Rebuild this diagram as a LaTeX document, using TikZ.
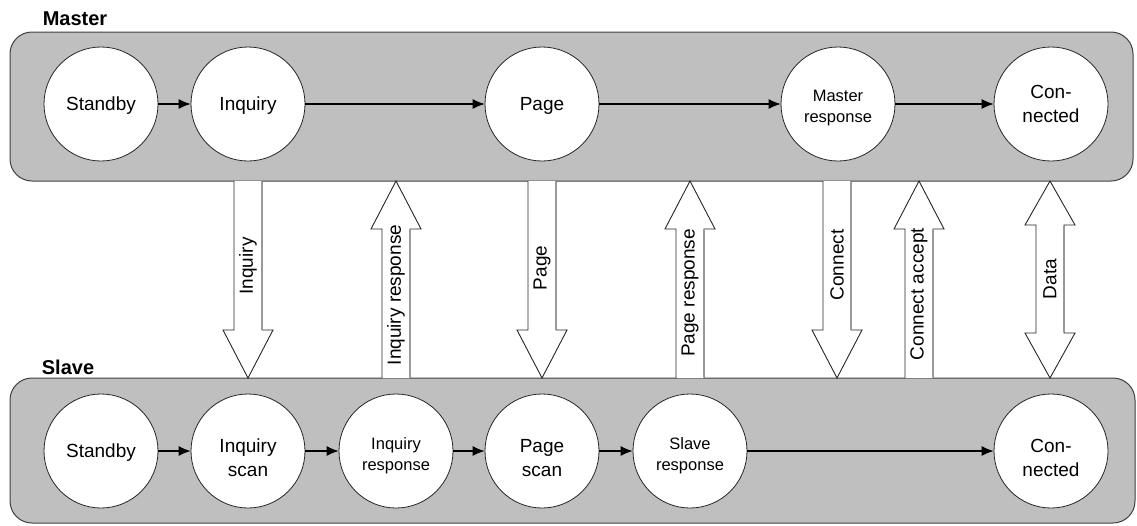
\documentclass[tikz,border=0pt]{standalone}
\usepackage{fontspec}
\setmainfont{Liberation Sans}
\usetikzlibrary{arrows.meta}
\begin{document}
\begin{tikzpicture}[x=1pt,y=-1pt,
  panel/.style={draw=black!75,fill=black!25,line width=1pt,rounded corners=22pt},
  state/.style={circle,draw=black!85,fill=white,line width=0.8pt,minimum size=114pt,inner sep=0pt},
  txt/.style={align=center,inner sep=0pt,font=\fontsize{19}{24}\selectfont},
  smalltxt/.style={txt,font=\fontsize{16.5}{21}\selectfont},
  flow/.style={draw=black,line width=1.1pt,-{Latex[length=12pt,width=10pt]}},
  blockedge/.style={draw=black!85,fill=white,line width=0.9pt,line join=miter},
  shadeedge/.style={draw=black!40,line width=1.2pt},
  vlabel/.style={rotate=90,inner sep=0pt,font=\fontsize{19}{23}\selectfont},
  title/.style={font=\bfseries\fontsize{20}{24}\selectfont,inner sep=0pt}]
\useasboundingbox (0,0) rectangle (1137,525);

% group panels
\draw[panel] (10,32) rectangle (1133,181);
\draw[panel] (10,378) rectangle (1135,523);
\node[title] (mtitle) at (75,19) {Master};
\node[title] (stitle) at (68,367) {Slave};

% master states
\node[state,label={[txt,yshift=-2pt]center:Standby}] (mstandby) at (101,104) {};
\node[state,label={[txt,yshift=-2pt]center:Inquiry}] (minquiry) at (248,104) {};
\node[state,label={[txt,yshift=-2pt]center:Page}] (mpage) at (542,104) {};
\node[state,label={[smalltxt,yshift=-4pt]center:{Master\\response}}] (mresp) at (838,104) {};
\node[state,label={[txt]center:{Con-\\nected}}] (mconn) at (1051,104) {};

% slave states
\node[state,label={[txt,yshift=-2pt]center:Standby}] (sstandby) at (101,451) {};
\node[state,label={[txt,yshift=-7pt]center:{Inquiry\\scan}}] (sinqscan) at (248,451) {};
\node[state,label={[smalltxt,yshift=-5pt]center:{Inquiry\\response}}] (sinqresp) at (396,451) {};
\node[state,label={[txt,yshift=-7pt]center:{Page\\scan}}] (spagescan) at (542,451) {};
\node[state,label={[smalltxt,yshift=-5pt]center:{Slave\\response}}] (sresp) at (690,451) {};
\node[state,label={[txt,yshift=-7pt]center:{Con-\\nected}}] (sconn) at (1051,451) {};

% transitions
\draw[flow] (mstandby) -- (minquiry);
\draw[flow] (minquiry) -- (mpage);
\draw[flow] (mpage) -- (mresp);
\draw[flow] (mresp) -- (mconn);
\draw[flow] (sstandby) -- (sinqscan);
\draw[flow] (sinqscan) -- (sinqresp);
\draw[flow] (sinqresp) -- (spagescan);
\draw[flow] (spagescan) -- (sresp);
\draw[flow] (sresp) -- (sconn);

% block arrows between the panels (top edge 181, bottom edge 378)
\newcommand\blkdown[1]{%
  \path[blockedge] (#1-14,181) -- (#1-14,330) -- (#1-25,330) -- (#1,378)
    -- (#1+25,330) -- (#1+14,330) -- (#1+14,181);
  \draw[shadeedge] (#1+14,182) -- (#1+14,330);}
\newcommand\blkup[1]{%
  \path[blockedge] (#1-14,378) -- (#1-14,229) -- (#1-25,229) -- (#1,181)
    -- (#1+25,229) -- (#1+14,229) -- (#1+14,378);
  \draw[shadeedge] (#1+14,229) -- (#1+14,377);}

\blkdown{248}
\blkup{396}
\blkdown{542}
\blkup{690}
\blkdown{837}
\blkup{919}
% two-way data arrow
\path[blockedge] (1050,181) -- (1075,225) -- (1064,225) -- (1064,333) -- (1075,333)
  -- (1050,378) -- (1025,333) -- (1036,333) -- (1036,225) -- (1025,225) -- cycle;
\draw[shadeedge] (1064,226) -- (1064,332);

\node[vlabel] (linq) at (248,266) {Inquiry};
\node[vlabel] (linqresp) at (396,295) {Inquiry response};
\node[vlabel] (lpage) at (542,268) {Page};
\node[vlabel] (lpageresp) at (690,293) {Page response};
\node[vlabel] (lconn) at (837,265) {Connect};
\node[vlabel] (lconnacc) at (919,294) {Connect accept};
\node[vlabel] (ldata) at (1050,279) {Data};
\end{tikzpicture}
\end{document}
